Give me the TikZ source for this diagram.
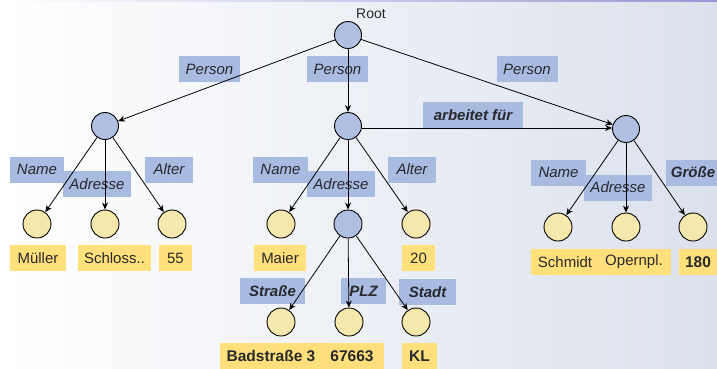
\documentclass[tikz,border=0pt]{standalone}
\usepackage{fontspec}
\setmainfont{Liberation Sans}
\usetikzlibrary{arrows.meta}
\definecolor{labblue}{RGB}{168,188,226}
\definecolor{nodeblue}{RGB}{176,192,226}
\definecolor{nodeyellow}{RGB}{246,231,172}
\definecolor{valyellow}{RGB}{255,224,122}
\definecolor{txt}{RGB}{40,40,45}
\definecolor{bgright}{RGB}{219,225,236}
\definecolor{topline}{RGB}{150,150,212}
\tikzset{
  bnode/.style={circle,draw=black,line width=0.9pt,fill=nodeblue,minimum size=27pt,inner sep=0pt},
  ynode/.style={circle,draw=black,line width=0.9pt,fill=nodeyellow,minimum size=28pt,inner sep=0pt},
  lab/.style={fill=labblue,text=txt,inner sep=0pt,minimum height=26pt,font=\fontsize{15}{16}\selectfont\itshape},
  blab/.style={lab,font=\fontsize{15}{16}\selectfont\bfseries\itshape},
  val/.style={fill=valyellow,text=txt,inner sep=0pt,minimum height=26pt},
  vtext/.style={text=txt,inner sep=0pt,font=\fontsize{15}{16}\selectfont},
  btext/.style={text=txt,inner sep=0pt,font=\fontsize{15.5}{16}\selectfont\bfseries},
  arr/.style={line width=0.8pt,-{Stealth[length=7pt,width=6pt]}}
}
\begin{document}
\begin{tikzpicture}[x=1pt,y=-1pt]
\useasboundingbox (0,0) rectangle (717,368);
\shade[left color=white,right color=bgright] (0,0) rectangle (717,368);
\shade[left color=white,right color=topline] (6,0) rectangle (717,1.6);

% edge labels
\node[lab,minimum width=61pt] (pl) at (209.5,69) {Person};
\node[lab,minimum width=61pt] (pm) at (337.5,69) {Person};
\node[lab,minimum width=61pt] (pr) at (527,69) {Person};
\node[lab,minimum width=54pt] (ln1) at (37,169.5) {Name};
\node[lab,minimum width=68pt] (la1) at (97,184) {Adresse};
\node[lab,minimum width=48pt] (lt1) at (169,169.5) {Alter};
\node[lab,minimum width=55pt] (ln2) at (280.5,169.5) {Name};
\node[lab,minimum width=68pt] (la2) at (341,184) {Adresse};
\node[lab,minimum width=48pt] (lt2) at (412,169.5) {Alter};
\node[lab,minimum width=55pt] (ln3) at (558.5,172.5) {Name};
\node[lab,minimum width=68pt] (la3) at (618,187.5) {Adresse};
\node[blab,minimum width=54pt] (lg3) at (693,172.5) {Größe};
\node[blab,minimum width=100pt] (lab) at (473,115) {arbeitet für};
\node[blab,minimum width=65pt] (lst) at (272.5,291) {Straße};
\node[blab,minimum width=45pt] (lplz) at (363.5,291) {PLZ};
\node[blab,minimum width=57pt] (lsd) at (427.5,292) {Stadt};

% value boxes
\node[val,minimum width=56pt] (vb1) at (38,258) {};
\node[vtext] (v1) at (vb1) {Müller};
\node[val,minimum width=73pt] (vb2) at (114.5,258) {};
\node[vtext] (v2) at (vb2) {Schloss..};
\node[val,minimum width=33pt] (vb3) at (175.5,258) {};
\node[vtext] (v3) at (vb3) {55};
\node[val,minimum width=52pt] (vb4) at (280,258) {};
\node[vtext] (v4) at (vb4) {Maier};
\node[val,minimum width=33pt] (vb5) at (418.5,258) {};
\node[vtext] (v5) at (vb5) {20};
\node[val,minimum width=140pt] (vb6) at (601,262) {};
\node[vtext] (v6) at (565,262) {Schmidt};
\node[vtext] (v7) at (634,262) {Opernpl.};
\node[val,minimum width=40pt] (vb8) at (699,262) {};
\node[btext] (v8) at (698,262) {180};
\node[val,minimum width=164pt] (vb9) at (302,356) {};
\node[btext] (v9) at (271,356) {Badstraße 3};
\node[btext] (v10) at (352,356) {67663};
\node[val,minimum width=35pt] (vb11) at (419.5,356) {};
\node[btext] (v11) at (vb11) {KL};

% nodes
\node[bnode] (root) at (348,35) {};
\node[text=txt,font=\fontsize{14}{15}\selectfont] (rootlab) at (371,14) {Root};
\node[bnode] (L) at (105,126) {};
\node[bnode] (M) at (348,126) {};
\node[bnode] (R) at (626,129) {};
\node[ynode] (L1) at (37,224) {};
\node[ynode] (L2) at (105,224) {};
\node[ynode] (L3) at (172,224) {};
\node[ynode] (M1) at (281,224) {};
\node[bnode,minimum size=28pt] (M2) at (348,224) {};
\node[ynode] (M3) at (416,224) {};
\node[ynode] (R1) at (558,227) {};
\node[ynode] (R2) at (626,227) {};
\node[ynode] (R3) at (693,227) {};
\node[ynode] (S1) at (281,322) {};
\node[ynode] (S2) at (349,322) {};
\node[ynode] (S3) at (416,322) {};

% edges
\draw[arr] (root) -- (L);
\draw[arr] (root) -- (M);
\draw[arr] (root) -- (R);
\draw[arr] (M.east |- 0,128) -- (R.west |- 0,128);
\draw[arr] (L) -- (L1);
\draw[arr] (L) -- (L2);
\draw[arr] (L) -- (L3);
\draw[arr] (M) -- (M1);
\draw[arr] (M) -- (M2);
\draw[arr] (M) -- (M3);
\draw[arr] (R) -- (R1);
\draw[arr] (R) -- (R2);
\draw[arr] (R) -- (R3);
\draw[arr] (M2) -- (S1);
\draw[arr] (M2) -- (S2);
\draw[arr] (M2) -- (S3);
\end{tikzpicture}
\end{document}
